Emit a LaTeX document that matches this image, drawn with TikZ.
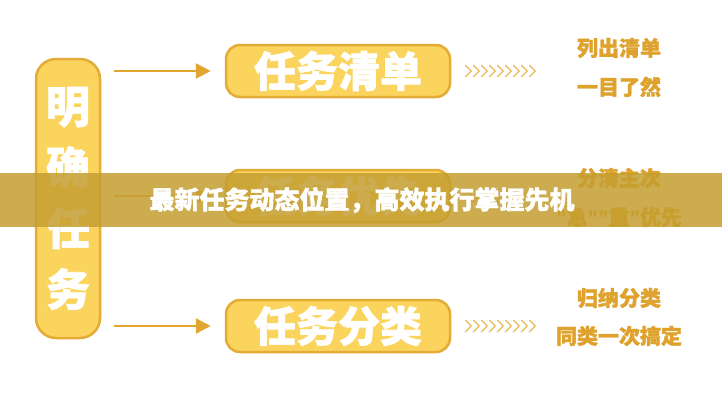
\documentclass[tikz,border=0pt]{standalone}
\usepackage{fontspec}
\setmainfont{Noto Sans CJK SC}[BoldFeatures={FakeBold=1.5}]
\newfontfamily\quotefont{Liberation Sans}[BoldFeatures={FakeBold=1.5}]
\usetikzlibrary{positioning, arrows.meta, calc}

\definecolor{boxfill}{HTML}{FAD45C}
\definecolor{boxline}{HTML}{E4AC36}
\definecolor{arrowgold}{HTML}{E2A631}
\definecolor{chevgold}{HTML}{E8BC58}
\definecolor{notegold}{HTML}{DFA22C}
\definecolor{bannergold}{HTML}{C49E30}

\newcommand{\qmark}{{\quotefont\bfseries ”}}

\tikzset{
  yellowbox/.style={draw=boxline, line width=2.5pt, fill=boxfill, rounded corners=14pt,
    text=white, font=\bfseries\fontsize{42}{42}\selectfont, inner sep=0pt},
  notetext/.style={text=notegold, font=\bfseries\fontsize{21}{39}\selectfont, align=center},
  goldarrow/.style={draw=arrowgold, line width=2.5pt, -{Triangle[length=15pt, width=15pt]}},
  chevron/.style={draw=chevgold, line width=1.3pt}
}

\begin{document}
\begin{tikzpicture}[x=1pt, y=-1pt]
\useasboundingbox (0,0) rectangle (722,400);
\fill[white] (0,0) rectangle (722,400);

% left column
\node[yellowbox, rounded corners=20pt, minimum width=64pt, minimum height=279pt, align=center,
  font=\bfseries\fontsize{44}{61}\selectfont] (mingque) at (68,198.5) {明\\确\\任\\务};

% task boxes
\node[yellowbox, minimum width=224pt, minimum height=52pt] (qingdan) at (338,71) {任务清单};
\node[yellowbox, minimum width=224pt, minimum height=52pt] (youxian) at (338,196) {任务优先};
\node[yellowbox, minimum width=224pt, minimum height=52pt] (fenlei) at (338,326) {任务分类};

\foreach \b in {qingdan, youxian, fenlei}
  \draw[goldarrow, shorten <=13pt, shorten >=14pt] (mingque.east |- \b.west) -- (\b.west);

% chevrons
\foreach \b in {qingdan, youxian, fenlei}
  \foreach \i in {0,...,8}
    \draw[chevron] ($(\b.east)+(14+8*\i,-6)$) -- ++(6,6) -- ++(-6,6);

% notes
\node[notetext] (note1) at (619,67.5) {列出清单\\一目了然};
\node[notetext] (note2) at (619,197.5) {分清主次\\\qmark 急\qmark\qmark 重\qmark 优先};
\node[notetext, font=\bfseries\fontsize{21}{38}\selectfont] (note3) at (619,317) {归纳分类\\同类一次搞定};

% banner
\fill[bannergold, opacity=0.85] (0,173) rectangle (722,227);
\node[text=white, font=\bfseries\fontsize{25}{25}\selectfont] (title) at (362,200)
  {最新任务动态位置，高效执行掌握先机};
\end{tikzpicture}
\end{document}
